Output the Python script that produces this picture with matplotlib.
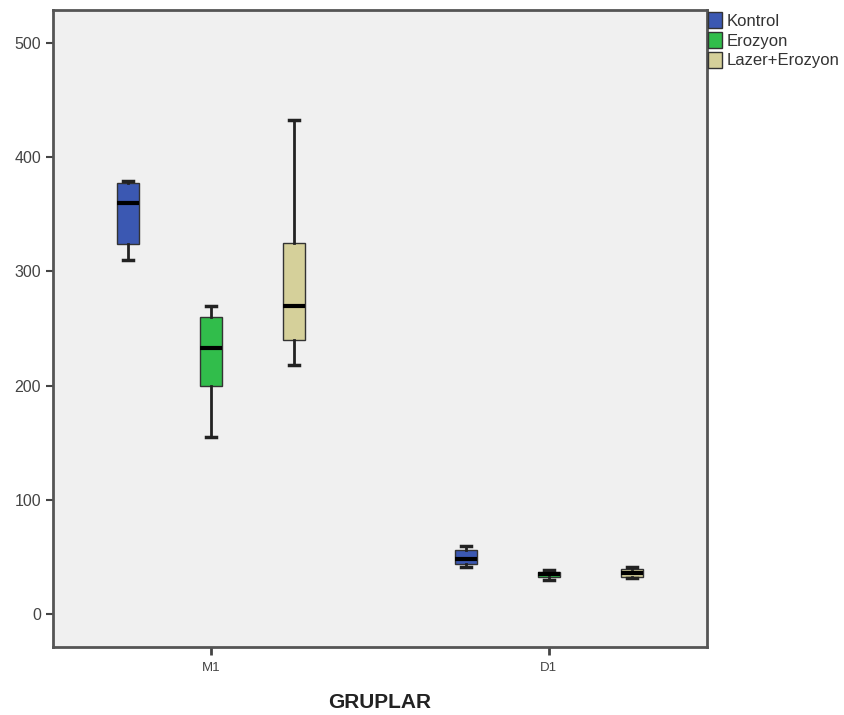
import matplotlib
matplotlib.use("Agg")
import matplotlib.pyplot as plt
from matplotlib.patches import Patch

plt.rcParams['font.family'] = ['Liberation Sans', 'DejaVu Sans']

categories = ["M1", "D1"]
groups = ["Kontrol", "Erozyon", "Lazer+Erozyon"]
colors = ["#3B58B2", "#31BD4B", "#D5D09A"]

# five-number summaries per group: [whislo, q1, median, q3, whishi] for M1, D1
kontrol = [[310, 324, 360, 377, 379], [41, 44, 48, 56, 59.5]]
erozyon = [[155, 200, 233, 260, 270], [30, 33, 35, 37, 38.5]]
lazer = [[218, 240, 270, 325, 432], [32, 32.5, 36.5, 40, 41]]
series = [kontrol, erozyon, lazer]

offsets = [-0.246, 0.0, 0.246]

fig = plt.figure(figsize=(8.45, 7.15), dpi=100)
fig.patch.set_facecolor("white")
ax = fig.add_axes([0.0624, 0.0955, 0.8363 - 0.0624, 0.986 - 0.0955])
ax.set_facecolor("#F0F0F0")

for gi, (s, col) in enumerate(zip(series, colors)):
    stats = []
    pos = []
    for ci, v in enumerate(s):
        stats.append(dict(whislo=v[0], q1=v[1], med=v[2], q3=v[3], whishi=v[4], fliers=[]))
        pos.append(ci + 1 + offsets[gi])
    ax.bxp(stats, positions=pos, widths=0.066, patch_artist=True, showfliers=False,
           boxprops=dict(facecolor=col, edgecolor="#333333", linewidth=1.0),
           medianprops=dict(color="black", linewidth=3.0, solid_capstyle="butt"),
           whiskerprops=dict(color="#222222", linewidth=2.0),
           capprops=dict(color="#222222", linewidth=2.5),
           capwidths=0.03, manage_ticks=False)

ax.set_xlim(0.532, 2.467)
ax.set_ylim(-28.3, 528.6)
ax.set_xticks([1, 2])
ax.set_xticklabels(categories, fontsize=9.5, color="#444444")
ax.set_yticks([0, 100, 200, 300, 400, 500])
ax.tick_params(axis='y', labelsize=11.5, labelcolor="#444444", color="#444444",
               length=5, width=1.5, direction='out')
ax.tick_params(axis='x', labelcolor="#444444", color="#444444",
               length=6, width=2, direction='out', pad=5)
for sp in ax.spines.values():
    sp.set_color("#555555")
    sp.set_linewidth(2.0)

ax.set_xlabel("GRUPLAR", fontsize=15, fontweight="bold", color="#222222", labelpad=14)

handles = [Patch(facecolor=c, edgecolor="#333333", linewidth=1.0) for c in colors]
fig.legend(handles, groups, loc="upper left", bbox_to_anchor=(705 / 845, 1 - 9 / 715),
           frameon=False, fontsize=12, handlelength=0.8, handleheight=1.1,
           handletextpad=0.3, labelspacing=0.18, borderaxespad=0, borderpad=0.2,
           labelcolor="#333333")

fig.savefig("out.png", dpi=100)
